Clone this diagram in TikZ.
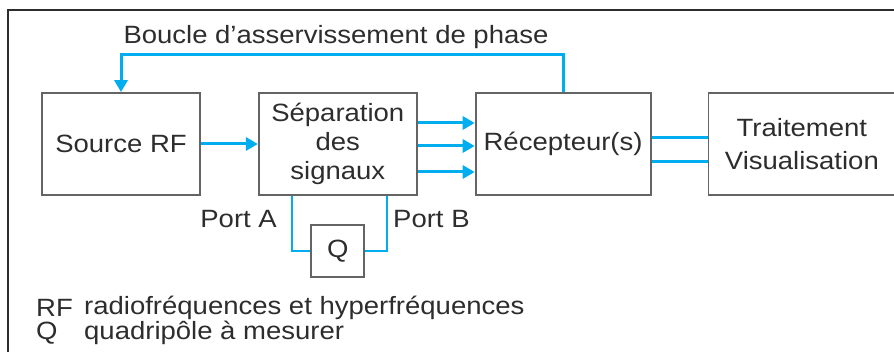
\documentclass[tikz,border=0pt]{standalone}
\usepackage{fontspec}
\setmainfont{Liberation Sans}[FakeStretch=1.1]
\usetikzlibrary{positioning,arrows.meta}

\definecolor{bleu}{RGB}{0,174,239}
\definecolor{gris}{RGB}{100,100,100}
\definecolor{encre}{RGB}{45,45,45}

\begin{document}
\begin{tikzpicture}[x=1pt,y=-1pt]
      \tikzset{
        bloc/.style={rectangle,draw=gris,line width=1.8pt,minimum height=102pt,
          align=center,text=encre,font=\fontsize{25}{29}\selectfont,inner sep=2pt},
        texte/.style={text=encre,font=\fontsize{25}{27}\selectfont,inner sep=0pt},
        fleche/.style={draw=bleu,line width=3pt,-{Triangle[length=12pt,width=13pt]}},
        liaison/.style={draw=bleu,line width=3pt},
        port/.style={draw=bleu,line width=2.2pt}
      }
      \useasboundingbox (0,0) rectangle (894,352);
      \draw[encre,line width=1.6pt] (8,352) -- (8,10) -- (894,10);

      \node[bloc,minimum width=158pt] (src) at (121,144) {Source RF};
      \node[bloc,minimum width=158pt,right=57pt of src] (sep) {Séparation\\des\\signaux};
      \node[bloc,minimum width=175pt,right=57pt of sep] (rec) {Récepteur(s)};
      \node[bloc,minimum width=187pt,right=56pt of rec,
        font=\fontsize{25}{33}\selectfont] (trt) {Traitement\\Visualisation};
      \node[bloc,minimum width=53pt,minimum height=52pt,below=28pt of sep] (q) {Q};

      \node[texte] (boucle) at (336,37) {Boucle d’asservissement de phase};
      \node[texte,anchor=east] (portA) at (277,219) {Port A};
      \node[texte,anchor=west] (portB) at (393,219) {Port B};

      \node[texte,anchor=west] (legRF) at (36,308) {RF};
      \node[texte,anchor=west] (legRFtxt) at (84,308) {radiofréquences et hyperfréquences};
      \node[texte,anchor=west] (legQ) at (36,333) {Q};
      \node[texte,anchor=west] (legQtxt) at (84,333) {quadripôle à mesurer};

      \draw[fleche] (rec.north) |- ([yshift=38pt]src.north) -- (src.north);
      \draw[fleche] (src.east) -- (sep.west);
      \foreach \dy in {21,-2,-28}
        \draw[fleche] ([yshift=\dy pt]sep.east) -- ([yshift=\dy pt]rec.west);
      \foreach \dy in {6,-18}
        \draw[liaison] ([yshift=\dy pt]rec.east) -- ([yshift=\dy pt]trt.west);
      \draw[port] ([xshift=-46pt]sep.south) |- (q.west);
      \draw[port] ([xshift=49pt]sep.south) |- (q.east);
    \end{tikzpicture}
\end{document}
